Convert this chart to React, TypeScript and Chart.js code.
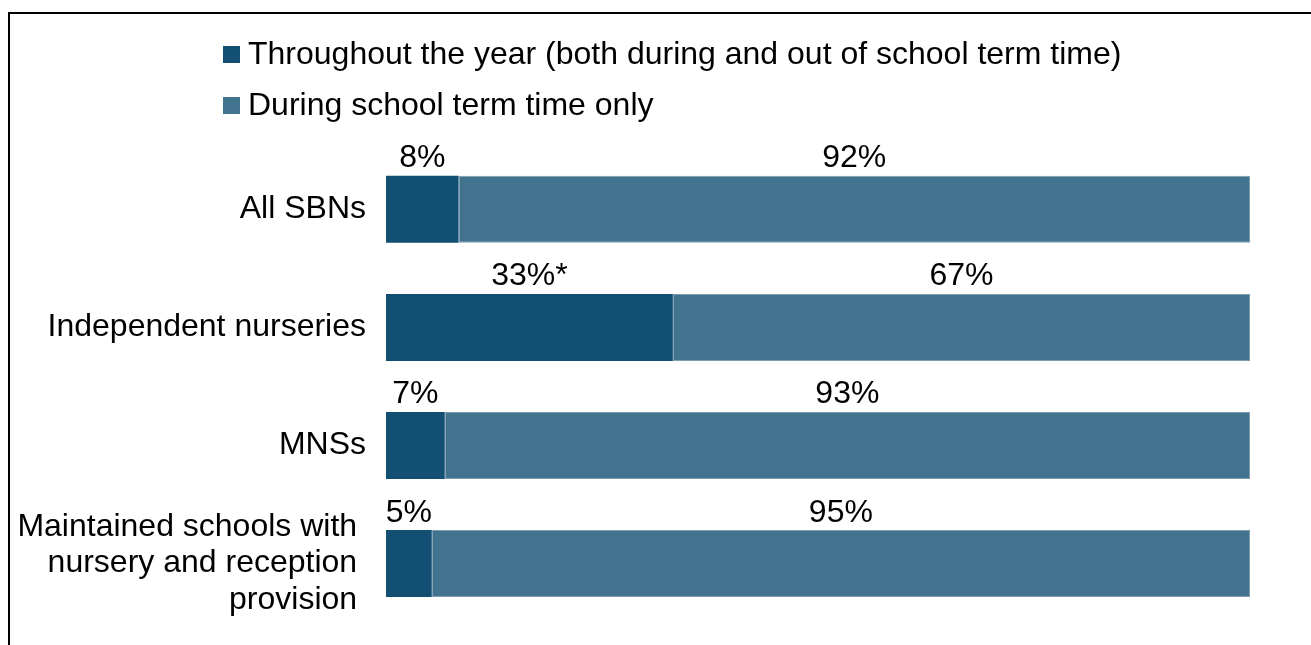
import React, { useEffect, useRef } from "react";
import { Chart, registerables } from "chart.js";

Chart.register(...registerables);

const categories: (string | string[])[] = [
  "All SBNs",
  "Independent nurseries",
  "MNSs",
  ["Maintained schools with ", "nursery and reception ", "provision "],
];
const seriesNames = [
  "Throughout the year (both during and out of school term time)",
  "During school term time only",
];
const throughoutYear = [8.4, 33.2, 6.8, 5.3];
const termTimeOnly = [91.6, 66.8, 93.2, 94.7];
const throughoutLabels = ["8%", "33%*", "7%", "5%"];
const termTimeLabels = ["92%", "67%", "93%", "95%"];

const DARK = "#124F73";
const LIGHT = "#41738F";
const FONT = "'Liberation Sans', Arial, sans-serif";
const FONT_SIZE = 32;

const framePlugin = {
  id: "frame",
  beforeDraw(chart: any) {
    const { ctx, width, height } = chart;
    ctx.save();
    ctx.fillStyle = "#000";
    ctx.fillRect(8, 12, width - 8, 2);
    ctx.fillRect(8, 12, 2, height - 12);
    ctx.restore();
  },
};

const legendPlugin = {
  id: "customLegend",
  afterDraw(chart: any) {
    const { ctx } = chart;
    ctx.save();
    ctx.font = `${FONT_SIZE}px ${FONT}`;
    ctx.textBaseline = "alphabetic";
    ctx.textAlign = "left";
    chart.data.datasets.forEach((ds: any, i: number) => {
      const top = 46 + i * 51;
      ctx.fillStyle = ds.backgroundColor;
      ctx.fillRect(223, top, 17, 17);
      ctx.fillStyle = "#000";
      ctx.fillText(ds.label, 248, top + 17.5);
    });
    ctx.restore();
  },
};

const valueLabelPlugin = {
  id: "valueLabels",
  afterDatasetsDraw(chart: any) {
    const { ctx } = chart;
    ctx.save();
    ctx.font = `${FONT_SIZE}px ${FONT}`;
    ctx.fillStyle = "#000";
    ctx.textAlign = "center";
    ctx.textBaseline = "alphabetic";
    chart.data.datasets.forEach((ds: any, i: number) => {
      const meta = chart.getDatasetMeta(i);
      meta.data.forEach((el: any, j: number) => {
        const props = el.getProps(["x", "y", "base", "height"], true);
        const cx = (props.x + props.base) / 2;
        const top = props.y - props.height / 2;
        ctx.fillText(ds.valueLabels[j], cx, top - 8.5);
      });
    });
    ctx.restore();
  },
};

export default function App() {
  const canvasRef = useRef<HTMLCanvasElement>(null);

  useEffect(() => {
    if (!canvasRef.current) return;
    Chart.defaults.font.family = FONT;
    Chart.defaults.color = "#000";
    const chart = new Chart(canvasRef.current, {
      type: "bar",
      data: {
        labels: categories,
        datasets: [
          {
            label: seriesNames[0],
            data: throughoutYear,
            backgroundColor: DARK,
            borderWidth: 0,
            valueLabels: throughoutLabels,
          } as any,
          {
            label: seriesNames[1],
            data: termTimeOnly,
            backgroundColor: LIGHT,
            borderColor: "#7f9db1",
            borderWidth: 1,
            borderSkipped: false,
            valueLabels: termTimeLabels,
          } as any,
        ],
      },
      plugins: [framePlugin, legendPlugin, valueLabelPlugin],
      options: {
        indexAxis: "y",
        animation: false,
        responsive: true,
        maintainAspectRatio: false,
        layout: { padding: { top: 150.3, bottom: 22.4, left: 0, right: 61 } },
        datasets: {
          bar: { categoryPercentage: 1, barPercentage: 0.568 },
        },
        plugins: {
          legend: { display: false },
          tooltip: { enabled: false },
        },
        scales: {
          x: {
            display: false,
            stacked: true,
            min: 0,
            max: 100,
          },
          y: {
            stacked: true,
            grid: { display: false, drawTicks: false },
            border: { display: false },
            ticks: {
              padding: 20,
              color: "#000",
              font: { size: FONT_SIZE, family: FONT, lineHeight: 36.3 / FONT_SIZE },
            },
            afterFit(scale: any) {
              scale.width = 386;
              scale.paddingTop = 0;
              scale.paddingBottom = 0;
            },
          },
        },
      },
    });
    return () => chart.destroy();
  }, []);

  return (
    <div style={{ position: "fixed", left: 0, top: 0, width: 1311, height: 645, background: "#fff" }}>
      <canvas ref={canvasRef} />
    </div>
  );
}
